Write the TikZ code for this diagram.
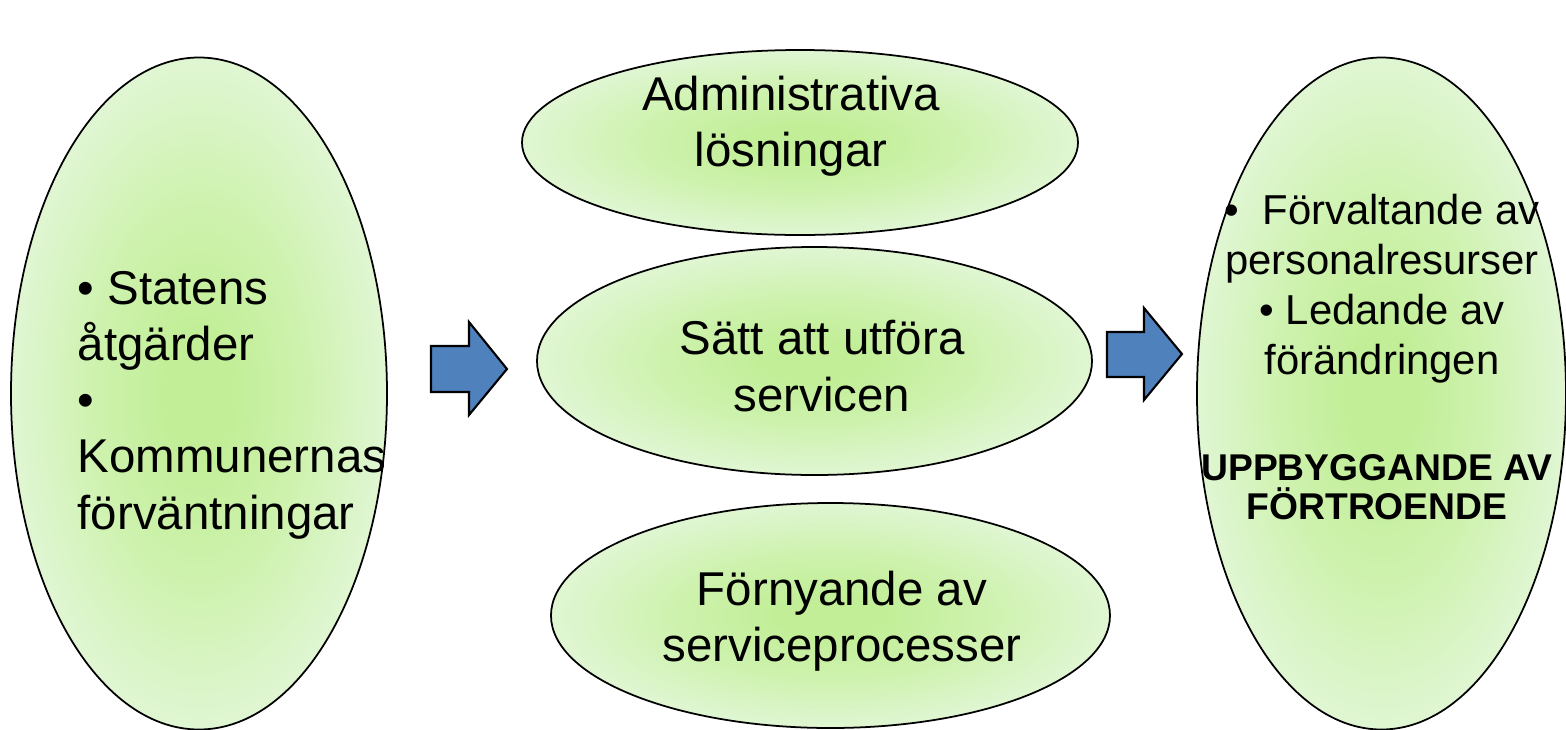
\documentclass[tikz,border=0pt]{standalone}
\usepackage{fontspec}
\setmainfont{Liberation Sans}
\usetikzlibrary{shapes.geometric}
\definecolor{leafin}{RGB}{193,238,150}
\definecolor{leafmid}{RGB}{206,242,174}
\definecolor{leafout}{RGB}{224,246,211}
\definecolor{arrowblue}{RGB}{79,129,189}
\pgfdeclareradialshading{leafglow}{\pgfpoint{0bp}{0bp}}{color(0bp)=(leafin); color(4bp)=(leafin); color(14bp)=(leafmid); color(25bp)=(leafout); color(50bp)=(leafout)}

\begin{document}
\begin{tikzpicture}[
	bubble/.style={ellipse, draw, line width=0.5pt, inner sep=0pt, shading=leafglow},
	blockarrow/.style={draw, line width=0.6pt, fill=arrowblue, line join=miter},
	bigtext/.style={font=\fontsize{13.5}{16}\selectfont, align=center, inner sep=0pt},
	smalltext/.style={font=\fontsize{11.9}{14.2}\selectfont, align=center, inner sep=0pt},
	boldtext/.style={font=\bfseries\fontsize{10.6}{11}\selectfont, align=center, inner sep=0pt}]
		\useasboundingbox (0,0) rectangle (15.66,7.29);
		%draw [help lines] (0,0) grid (15,7);
		%ellipses
		\node [bubble, minimum width=3.76cm, minimum height=6.72cm] (krav) at (1.99,3.355) {};
		\node [bubble, minimum width=5.56cm, minimum height=1.85cm] (admin) at (8.00,5.865) {};
		\node [bubble, minimum width=5.55cm, minimum height=2.28cm] (satt) at (8.145,3.68) {};
		\node [bubble, minimum width=5.59cm, minimum height=2.25cm] (fornya) at (8.305,1.135) {};
		\node [bubble, minimum width=3.69cm, minimum height=6.72cm] (resultat) at (13.815,3.355) {};
		%texts
		\node [bigtext, align=left, anchor=west] (kravtext) at (0.77,3.24)
			{• Statens\\åtgärder\\•\\Kommunernas\\förväntningar};
		\node [bigtext] (admintext) at (7.91,6.03) {Administrativa\\lösningar};
		\node [bigtext] (satttext) at (8.22,3.63) {Sätt att utföra\\servicen};
		\node [bigtext] (fornyatext) at (8.42,1.08) {Förnyande av\\serviceprocesser};
		\node [smalltext] (resultattext) at (13.82,4.40)
			{•\ \ Förvaltande av\\personalresurser\\• Ledande av\\förändringen};
		\node [boldtext] (fortroende) at (13.77,2.42) {UPPBYGGANDE AV\\FÖRTROENDE};
		%arrows
		\draw[blockarrow] (4.31,3.83) -- (4.69,3.83) -- (4.69,4.07) -- (5.07,3.60)
			-- (4.69,3.14) -- (4.69,3.37) -- (4.31,3.37) -- cycle;
		\draw[blockarrow] (11.07,3.97) -- (11.44,3.97) -- (11.44,4.21) -- (11.82,3.75)
			-- (11.44,3.29) -- (11.44,3.52) -- (11.07,3.52) -- cycle;
	\end{tikzpicture}
\end{document}
